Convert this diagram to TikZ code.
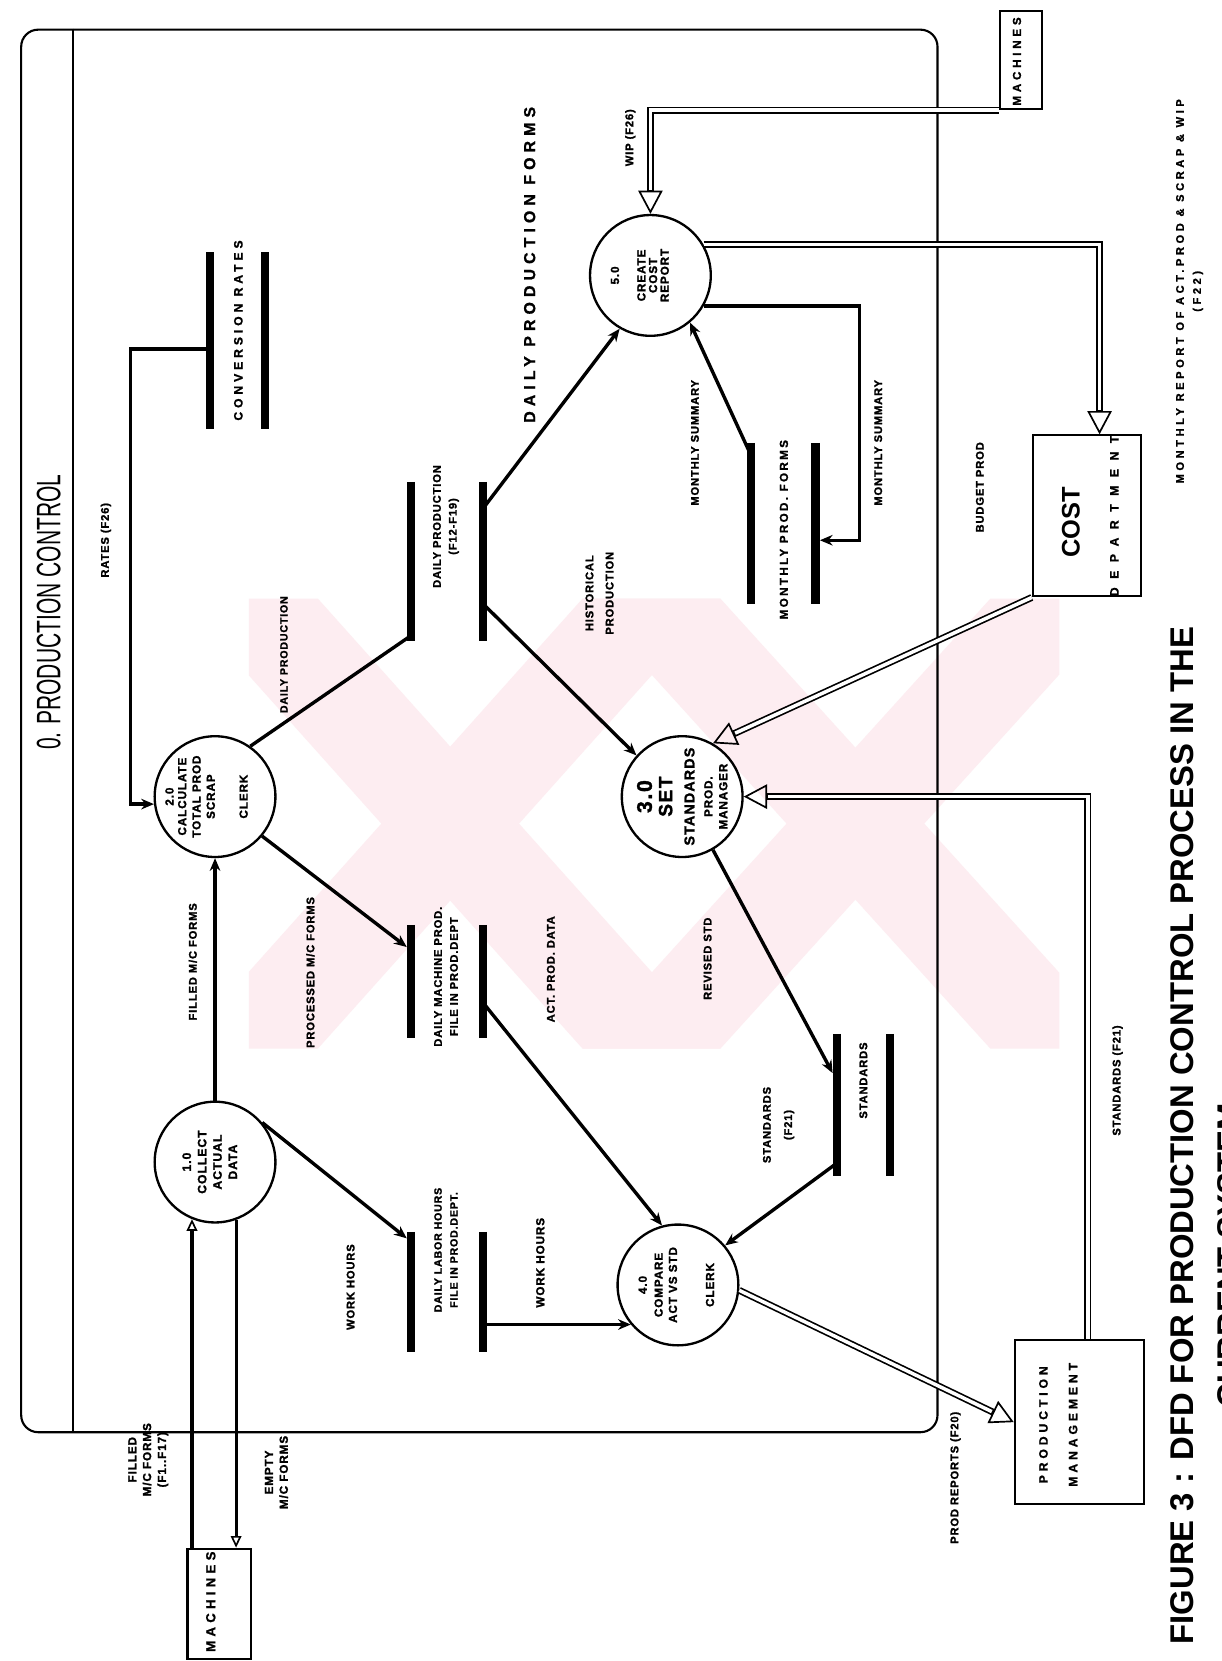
\documentclass[tikz,border=0pt]{standalone}
\usepackage{fontspec}
\setmainfont{Liberation Sans}
\newfontfamily\lblfont{Liberation Sans}[LetterSpace=32, FakeBold=1.2]
\newfontfamily\tightfont{Liberation Sans}[LetterSpace=8, FakeBold=1.6]
\usetikzlibrary{arrows.meta}
\definecolor{wm}{RGB}{253,237,241}
\newcommand\lsize[2]{\lblfont\bfseries\fontsize{#1}{#2}\selectfont}
\newcommand\tsize[2]{\tightfont\bfseries\fontsize{#1}{#2}\selectfont}

\begin{document}
\begin{tikzpicture}[x=1pt, y=-1pt,
  lab/.style={rotate=90, align=center, inner sep=0pt, font=\tsize{10.5}{15}},
  labw/.style={rotate=90, align=center, inner sep=0pt, font=\lsize{11.5}{15}},
  ptxt/.style={rotate=90, align=center, inner sep=0pt},
  proc/.style={circle, draw, line width=2.2pt, minimum size=114, inner sep=0pt},
  ext/.style={draw, line width=2pt, inner sep=0pt},
  store/.style={inner sep=0pt, outer sep=0pt},
  bar/.style={line width=8pt},
  flow/.style={line width=3.2pt, -{Stealth[length=12pt, width=10pt]}},
  mflow/.style={line width=3pt, -{Triangle[open, length=11pt, width=10pt, line width=1.6pt]}},
  dflow/.style={line width=6.5pt, -{Triangle[open, length=22pt, width=23pt, line width=1.6pt]},
                postaction={draw=white, line width=3.3pt, -, shorten >=23pt}},
]
\clip (0,0) rectangle (1153,1568);
\fill[white] (0,0) rectangle (1153,1568);

% faint background emblem
\begin{scope}
  \clip (235,565) rectangle (1000,990);
  \foreach \a/\b in {235/615, 615/235, 615/1000, 1000/615}
    \fill[wm] (\a-65,565) -- (\a+65,565) -- (\b+65,990) -- (\b-65,990) -- cycle;
\end{scope}

% outer frame with title band
\node[draw, line width=2pt, rounded corners=16pt, minimum width=865, minimum height=1324, inner sep=0pt]
  (F) at (452.5,690) {};
\draw[line width=2pt] ([xshift=50pt]F.north west) -- ([xshift=50pt]F.south west);
\node[rotate=90, inner sep=0pt, font=\fontsize{32}{32}\selectfont] (T) at (46,578)
  {\scalebox{0.62}[1]{0. PRODUCTION CONTROL}};

% processes
\node[proc] (P1) at (203,1097) {};
\node[proc] (P2) at (203,752) {};
\node[proc] (P3) at (644,752) {};
\node[proc] (P4) at (640,1213) {};
\node[proc] (P5) at (614,260) {};

\node[ptxt, font=\tsize{11.5}{14.5}] (P1t) at (198,1097) {1.0\\COLLECT\\ACTUAL\\DATA};
\node[ptxt, font=\tsize{11}{13.5}] (P2t) at (195,752) {2.0\\[-1.5pt]CALCULATE\\TOTAL PROD\\SCRAP\\[17.5pt]CLERK};
\node[ptxt, font=\tsize{11}{11}] (P3t) at (644,752)
  {{\fontsize{20}{20}\selectfont 3.0}\\[5.4pt]{\fontsize{18}{18}\selectfont SET}\\[10pt]{\fontsize{13.5}{14}\selectfont STANDARDS}\\[6pt]PROD.\\[3pt]MANAGER};
\node[ptxt, font=\tsize{11}{13.5}] (P4t) at (638.5,1213) {4.0\\[1.5pt]COMPARE\\ACT VS STD\\[21.5pt]CLERK};
\node[ptxt, font=\tsize{11}{11}] (P5t) at (604,260) {5.0\\[14pt]CREATE\\COST\\REPORT};

% data stores
\node[store, minimum width=68, minimum height=113] (S1) at (422,1219.5) {};
\node[store, minimum width=68, minimum height=107] (S2) at (422,926.5) {};
\node[store, minimum width=68, minimum height=150] (S3) at (422,530) {};
\node[store, minimum width=52, minimum height=167] (S4) at (224,321.5) {};
\node[store, minimum width=61, minimum height=152] (S5) at (739.5,494) {};
\node[store, minimum width=50, minimum height=134] (S6) at (815,1043) {};
\foreach \s in {S1,S2,S3,S4,S5,S6}
  \draw[bar] (\s.north west) -- (\s.south west) (\s.north east) -- (\s.south east);

\node[lab, font=\tsize{10}{15}] (S1t) at (421,1180) {DAILY LABOR HOURS\\FILE IN PROD.DEPT.};
\node[lab, font=\tsize{10.5}{15}] (S2t) at (421,922) {DAILY MACHINE PROD.\\FILE IN PROD.DEPT};
\node[lab] (S3t) at (421,497) {DAILY PRODUCTION\\(F12-F19)};
\node[labw] (S4t) at (225,312) {CONVERSION RATES};
\node[lab, font=\lblfont\bfseries\fontsize{11}{13}\selectfont\addfontfeature{LetterSpace=20}] (S5t) at (740,500) {MONTHLY PROD. FORMS};
\node[lab] (S6t) at (815,1020) {STANDARDS};

% external entities
\node[ext, minimum width=60, minimum height=104] (M1) at (207,1514) {};
\node[labw, font=\lsize{12.5}{15}] (M1t) at (199,1512) {MACHINES};
\node[ext, minimum width=40, minimum height=93] (M2) at (964,56.5) {};
\node[labw, font=\lsize{11}{13}] (M2t) at (960,58) {MACHINES};
\node[ext, minimum width=102, minimum height=152] (COST) at (1026,487) {};
\node[rotate=90, inner sep=0pt, font=\bfseries\fontsize{24}{24}\selectfont] (COSTt) at (1011,493) {COST};
\node[labw, font=\lblfont\bfseries\fontsize{11.5}{14}\selectfont\addfontfeature{LetterSpace=70}] (COSTd) at (1052,487) {DEPARTMENT};
\node[ext, minimum width=122, minimum height=155] (PM) at (1019,1342.5) {};
\node[labw, font=\lsize{11.5}{12}] (PMt) at (999,1345) {PRODUCTION\\[16pt]MANAGEMENT};

% single flows
\draw[mflow] (P1.248 |- M1.north) -- (P1.248);
\draw[mflow] (P1.290) -- (P1.290 |- M1.north);
\draw[flow] (P1) -- (P2);
\draw[flow] (P1.40) -- ([xshift=-4pt, yshift=-6pt]S1.north west);
\draw[flow] (S1.east |- P4.220) -- (P4.220);
\draw[flow] ([yshift=-8pt]S4.west) -- ++(-75,0) |- (P2.187);
\draw[flow] (P2.320) -- ([xshift=-4pt, yshift=-21pt]S2.north west);
\draw[line width=3.2pt] (P2.55) -- ([yshift=5pt]S3.south west);
\draw[flow] ([yshift=-20pt]S2.east) -- (P4.105);
\draw[flow] ([yshift=-40pt]S3.east) -- (P3.138);
\draw[flow] ([yshift=50pt]S3.east) -- (P5.240);
\draw[flow] ([yshift=-12pt]S5.north west) -- (P5.310);
\draw[flow] (P5.330) -- ++(147,0) |- ([xshift=4pt, yshift=-16pt]S5.east);
\draw[flow] (P3.300) -- ([xshift=-4pt, yshift=-37pt]S6.north west);
\draw[flow] ([yshift=-55pt]S6.west) -- (P4.40);

% double flows
\draw[dflow] (M2.south west) -| (P5.north);
\draw[dflow] (P5.30) -| ([xshift=12pt]COST.north);
\draw[dflow] (COST.south west) -- (P3.60);
\draw[dflow] ([xshift=8pt]PM.north) |- (P3.east);
\draw[dflow] (P4.355) -- (PM.west);

% flow labels
\node[lab] (L1) at (100,510) {RATES (F26)};
\node[lab, font=\tsize{10}{15}] (L2) at (268,618) {DAILY PRODUCTION};
\node[lab] (L3) at (182,908) {FILLED M/C FORMS};
\node[lab] (L4) at (293,918) {PROCESSED M/C FORMS};
\node[lab] (L5) at (331,1215) {WORK HOURS};
\node[lab, font=\tsize{11}{15}] (L6) at (510,1192) {WORK HOURS};
\node[lab] (L7) at (520,915) {ACT. PROD. DATA};
\node[lab, font=\tsize{10.5}{19}] (L8) at (566,560) {HISTORICAL\\PRODUCTION};
\node[labw, font=\lsize{15}{18}] (L9) at (500,250) {DAILY PRODUCTION FORMS};
\node[lab] (L10) at (595,130) {WIP (F26)};
\node[lab] (L11) at (656,418) {MONTHLY SUMMARY};
\node[lab] (L12) at (829,418) {MONTHLY SUMMARY};
\node[lab] (L13) at (668,905) {REVISED STD};
\node[lab, font=\tsize{10.5}{20}] (L14) at (735,1062) {STANDARDS\\(F21)};
\node[lab] (L15) at (925,460) {BUDGET PROD};
\node[lab] (L16) at (902,1395) {PROD REPORTS (F20)};
\node[lab] (L17) at (1055,1020) {STANDARDS (F21)};
\node[labw, font=\lsize{10.5}{16}] (L18) at (1123,275) {MONTHLY REPORT OF ACT.PROD \& SCRAP \& WIP\\(F22)};
\node[lab, font=\tsize{11}{14}] (L19) at (140,1378) {FILLED\\M/C FORMS\\(F1..F17)};
\node[lab, font=\tsize{11}{14}] (L20) at (261,1390) {EMPTY\\M/C FORMS};

% caption
\node[rotate=90, inner sep=0pt, font=\bfseries\fontsize{31}{31}\selectfont] (C1) at (1116,1072)
  {FIGURE 3 : DFD FOR PRODUCTION CONTROL PROCESS IN THE};
\node[rotate=90, inner sep=0pt, font=\bfseries\fontsize{31}{31}\selectfont] (C2) at (1160,1185)
  {CURRENT SYSTEM};
\end{tikzpicture}
\end{document}
